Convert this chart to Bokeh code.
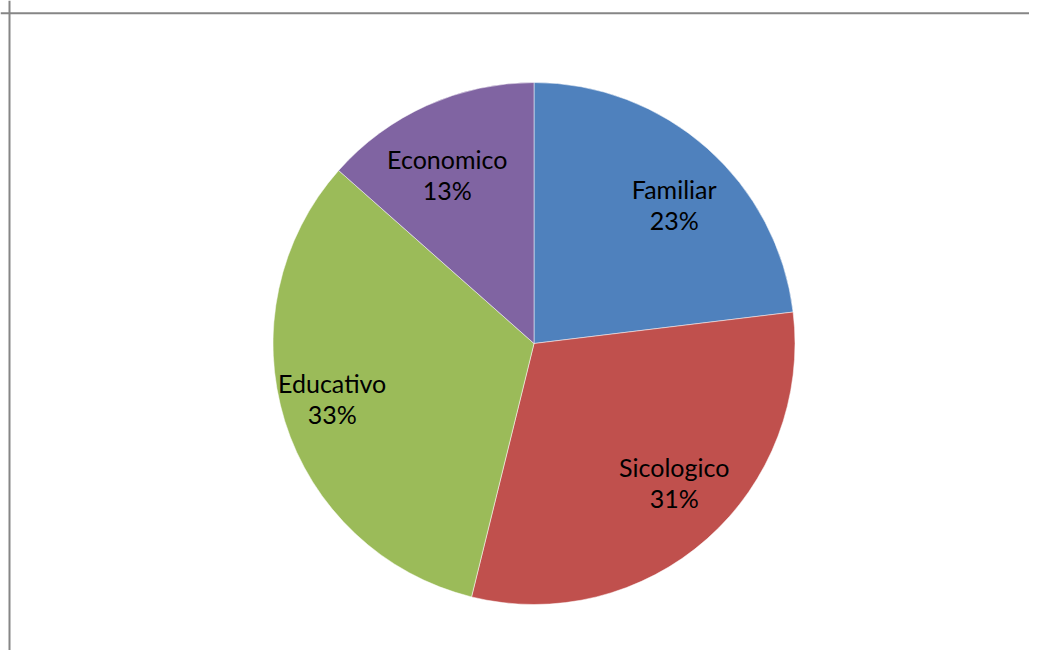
import math
from bokeh.plotting import figure
from bokeh.models import Range1d, Span, ColumnDataSource
from bokeh.core.properties import value
from bokeh.embed import file_html
from bokeh.resources import INLINE

# Data
categories = ["Familiar", "Sicologico", "Educativo", "Economico"]
counts = [12, 16, 17, 7]
colors = ["#4F81BD", "#C0504D", "#9BBB59", "#8064A2"]

# Layout (pixel space)
W, H = 1029, 650
CX, CY = 533.5, H - 343.0
R = 261.0
LAB_AX, LAB_AY = 0.81, 0.71   # label placement (fraction of radius)
LINE_GAP = 15.5

total = sum(counts)
starts, ends, lx, ly, names, pcts = [], [], [], [], [], []
cum = 0.0
for c, v in zip(categories, counts):
    frac = v / total
    a0 = math.pi / 2 - 2 * math.pi * cum
    a1 = math.pi / 2 - 2 * math.pi * (cum + frac)
    starts.append(a0)
    ends.append(a1)
    mid = (a0 + a1) / 2
    lx.append(CX + LAB_AX * R * math.cos(mid))
    ly.append(CY + LAB_AY * R * math.sin(mid))
    names.append(c)
    pcts.append(f"{round(frac * 100)}%")
    cum += frac

src = ColumnDataSource(dict(start=starts, end=ends, color=colors,
                            x=lx, y=ly,
                            y1=[y + LINE_GAP for y in ly],
                            y2=[y - LINE_GAP for y in ly],
                            name=names, pct=pcts))

p = figure(width=W, height=H, output_backend="svg", toolbar_location=None,
           x_range=Range1d(0, W), y_range=Range1d(0, H), min_border=0)
p.axis.visible = False
p.grid.visible = False
p.outline_line_color = None
p.background_fill_color = "white"
p.border_fill_color = "white"

p.wedge(x=CX, y=CY, radius=R, start_angle="start", end_angle="end",
        direction="clock", fill_color="color", line_color="white",
        line_width=0.5, source=src)

for col, ycol in (("name", "y1"), ("pct", "y2")):
    p.text(x="x", y=ycol, text=col, source=src, text_align="center",
           text_baseline="middle", text_font=value("Lato"),
           text_font_size="25px", text_color="black")

p.add_layout(Span(location=9.0, dimension="height", line_color="#868686", line_width=2))
p.add_layout(Span(location=H - 12.7, dimension="width", line_color="#868686", line_width=2))

open("out.html", "w").write(file_html(p, INLINE))
